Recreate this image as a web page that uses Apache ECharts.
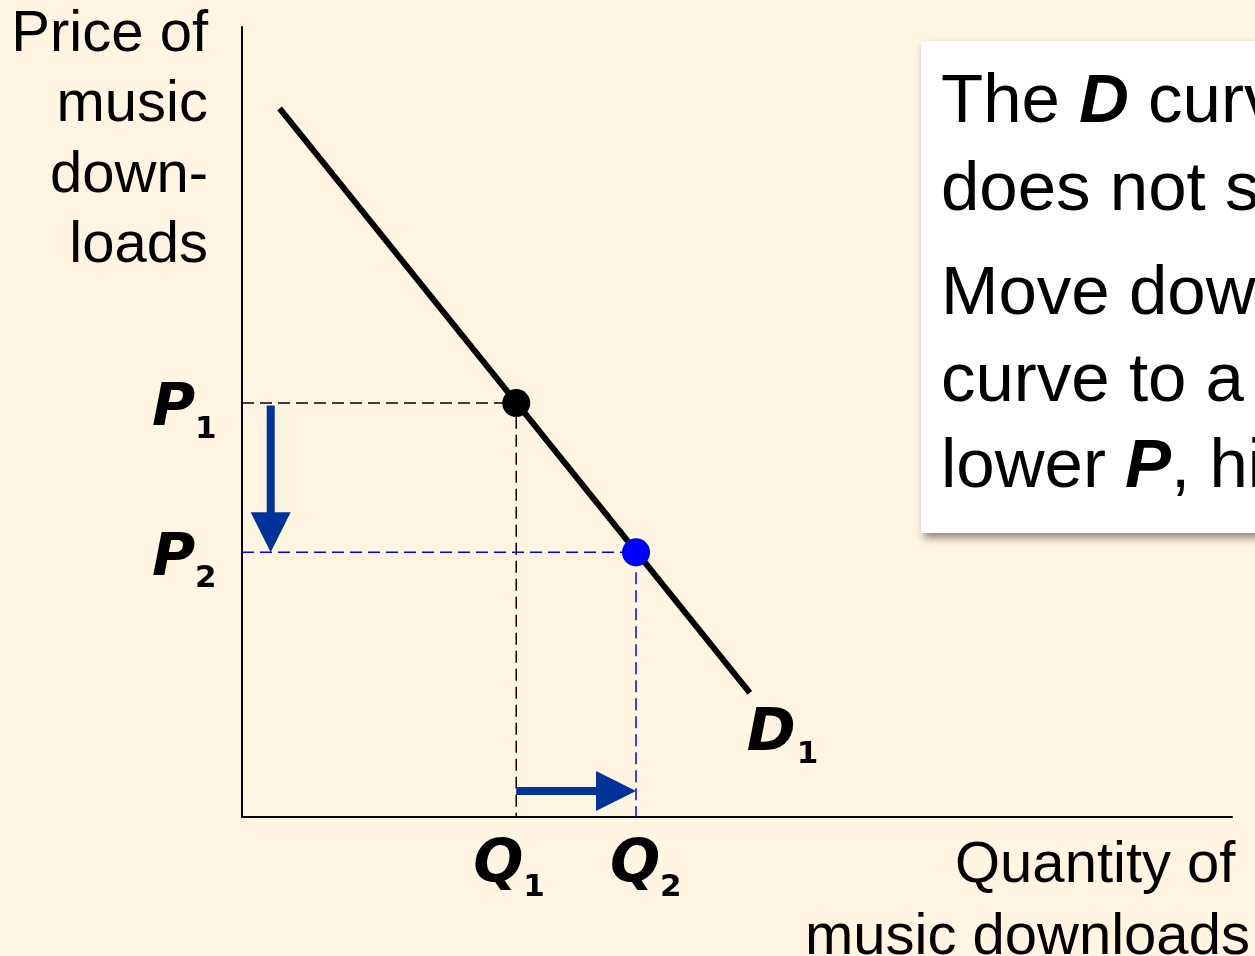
<!DOCTYPE html>
<html>
<head>
<meta charset="utf-8">
<script src="https://cdn.jsdelivr.net/npm/echarts@6/dist/echarts.min.js"></script>
<style>
  html, body { margin: 0; padding: 0; background: #fff5e1; }
  #chart { width: 1255px; height: 956px; }
</style>
</head>
<body>
<div id="chart"></div>
<script>
  // demand curve D1 (quantity, price) endpoints
  const demandQ = [3.8, 51.3];
  const demandP = [89.7, 15.7];
  // the two points on D1
  const pointQ = [27.7, 39.8];
  const pointP = [52.4, 33.5];
  const pointNames = ['1', '2'];
  const pointColors = ['#000000', '#0000ff'];
  // arrows: [fromX, fromY, toX, toY]
  const priceArrow = [2.9, 52.1, 2.9, 33.5];
  const qtyArrow = [27.7, 3.3, 39.8, 3.3];

  const arrowColor = '#003399';
  const labelFont = 'DejaVu Sans';
  const textFont = 'Liberation Sans';

  const myChart = echarts.init(document.getElementById('chart'));

  const guide = (i) => ({
    type: 'line',
    data: [[0, pointP[i]], [pointQ[i], pointP[i]], [pointQ[i], 0]],
    symbol: 'none',
    silent: true,
    lineStyle: { color: i === 0 ? '#000' : '#0000ff', width: 1.5, type: [12, 6] },
    z: 2,
  });

  const arrowSeries = {
    type: 'custom',
    data: [priceArrow, qtyArrow],
    encode: { x: [0, 2], y: [1, 3] },
    clip: false,
    z: 3,
    renderItem(params, api) {
      const a = api.coord([api.value(0), api.value(1)]);
      const b = api.coord([api.value(2), api.value(3)]);
      const len = Math.hypot(b[0] - a[0], b[1] - a[1]);
      const dx = (b[0] - a[0]) / len;
      const dy = (b[1] - a[1]) / len;
      const head = 40, half = 20;
      const base = [b[0] - dx * head, b[1] - dy * head];
      return {
        type: 'group',
        children: [
          {
            type: 'line',
            shape: { x1: a[0], y1: a[1], x2: base[0] + dx * 2, y2: base[1] + dy * 2 },
            style: { stroke: arrowColor, lineWidth: 8 },
          },
          {
            type: 'polygon',
            shape: { points: [b, [base[0] - dy * half, base[1] + dx * half], [base[0] + dy * half, base[1] - dx * half]] },
            style: { fill: arrowColor },
          },
        ],
      };
    },
  };

  const hiddenAxis = {
    type: 'value',
    min: 0,
    max: 100,
    axisLine: { show: true, lineStyle: { color: '#000', width: 2 } },
    axisTick: { show: false },
    axisLabel: { show: false },
    splitLine: { show: false },
  };

  myChart.setOption({
    backgroundColor: '#fff5e1',
    animation: false,
    grid: { left: 242, top: 27, width: 990, height: 790 },
    xAxis: hiddenAxis,
    yAxis: hiddenAxis,
    series: [
      guide(0),
      guide(1),
      {
        type: 'line',
        data: demandQ.map((q, i) => [q, demandP[i]]),
        symbol: 'none',
        lineStyle: { color: '#000', width: 6 },
        z: 4,
      },
      arrowSeries,
      {
        type: 'scatter',
        data: pointQ.map((q, i) => ({ value: [q, pointP[i]], itemStyle: { color: pointColors[i], opacity: 1 } })),
        symbolSize: 28,
        z: 5,
      },
    ],
  });

  // labels placed from the data coordinates
  const px = (x, y) => myChart.convertToPixel({ gridIndex: 0 }, [x, y]);
  const letter = (ch, x, y) => ({
    type: 'text', x, y,
    style: { text: ch, font: `italic bold 59px "${labelFont}"`, fill: '#000', align: 'left', verticalAlign: 'middle' },
  });
  const sub = (ch, x, y) => ({
    type: 'text', x, y,
    style: { text: ch, font: `bold 31px "${labelFont}"`, fill: '#000', align: 'left', verticalAlign: 'middle' },
  });
  const plain = (txt, x, y, align, size) => ({
    type: 'text', x, y,
    style: {
      text: txt, font: `${size}px "${textFont}"`, fill: '#000', align, verticalAlign: 'middle',
      rich: { b: { fontFamily: textFont, fontSize: size, fontWeight: 'bold', fontStyle: 'italic' } },
    },
  });

  const labels = [];
  const qShift = [-43, -26];
  pointQ.forEach((q, i) => {
    const p = px(q, pointP[i]);
    const axisY = px(0, 0)[1];
    labels.push(letter('P', 152, p[1] + 7));
    labels.push(sub(pointNames[i], 195, p[1] + 27));
    labels.push(letter('Q', p[0] + qShift[i], axisY + 49));
    labels.push(sub(pointNames[i], p[0] + qShift[i] + 50, axisY + 71));
  });
  const dEnd = px(demandQ[1], demandP[1]);
  labels.push(letter('D', dEnd[0] - 3, dEnd[1] + 42));
  labels.push(sub('1', dEnd[0] + 47, dEnd[1] + 62));

  // y axis title
  ['Price of', 'music', 'down-', 'loads'].forEach((t, i) => {
    labels.push(plain(t, 208, 35 + i * 70.3, 'right', 58));
  });
  // x axis title
  labels.push(plain('Quantity of', 955, 866, 'left', 58));
  labels.push(plain('music downloads', 805, 938, 'left', 58));

  // text box
  const boxLines = ['The {b|D} curve', 'does not shift.', 'Move down along', 'curve to a', 'lower {b|P}, higher {b|Q}.'];
  const boxY = [103, 191, 295, 382, 468];
  const boxText = boxLines.map((t, i) => plain(t, 941, boxY[i], 'left', 69));

  myChart.setOption({
    graphic: [
      {
        type: 'rect',
        shape: { x: 921, y: 41, width: 400, height: 492 },
        style: { fill: '#fff', shadowBlur: 8, shadowOffsetX: 3, shadowOffsetY: 5, shadowColor: 'rgba(0,0,0,0.45)' },
        z: 10,
      },
      ...boxText.map((t) => Object.assign(t, { z: 11 })),
      ...labels,
    ],
  });
</script>
</body>
</html>
